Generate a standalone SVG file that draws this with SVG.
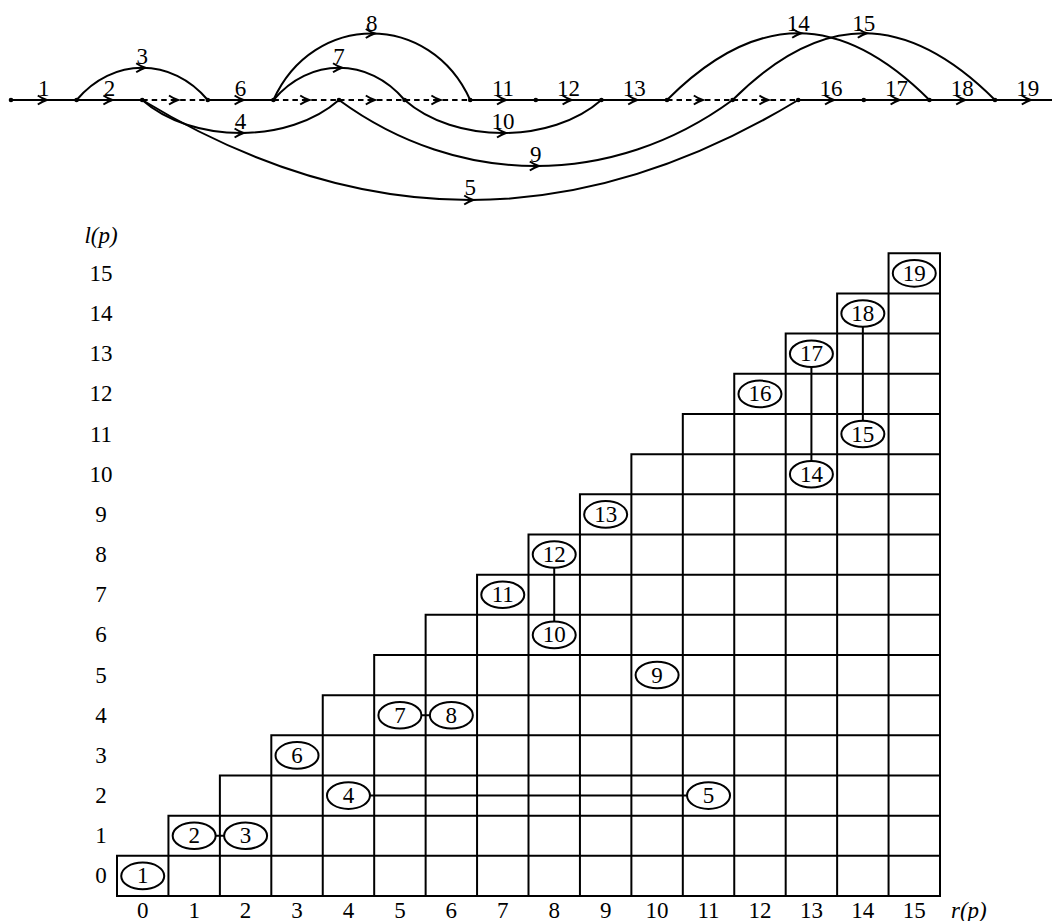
<svg xmlns="http://www.w3.org/2000/svg" width="1052" height="921" viewBox="0 0 1052 921">
<style>
text{font-family:"Liberation Serif","Times New Roman",serif;font-size:23px;fill:#000;text-anchor:middle}
.it{font-style:italic}
.e{fill:none;stroke:#000;stroke-width:2;marker-mid:url(#arr)}
.d{stroke-dasharray:5.5 4}
.dot{fill:#000}
.grid{fill:none;stroke:#000;stroke-width:2;stroke-linecap:square}
.ell{fill:#fff;stroke:#000;stroke-width:2}
.lnk{fill:none;stroke:#000;stroke-width:2}
</style>
<defs>
<marker id="arr" viewBox="-12 -6 16 12" markerWidth="16" markerHeight="12" refX="-3" refY="0" orient="auto" markerUnits="userSpaceOnUse">
<path d="M-9,-4.5 Q-4,-1.2 0,0 Q-4,1.2 -9,4.5" fill="none" stroke="#000" stroke-width="2" stroke-dasharray="none"/>
</marker>
</defs>
<rect width="1052" height="921" fill="#fff"/>

<g id="connectors">
<path class="e" d="M11,100 L43.8,100 L76.6,100"/>
<path class="e" d="M76.6,100 L109.4,100 L142.2,100"/>
<path class="e d" d="M142.2,100 L175,100 L207.8,100"/>
<path class="e" d="M207.8,100 L240.6,100 L273.4,100"/>
<path class="e d" d="M273.4,100 L306.2,100 L339,100"/>
<path class="e d" d="M339,100 L371.8,100 L404.6,100"/>
<path class="e d" d="M404.6,100 L437.4,100 L470.2,100"/>
<path class="e" d="M470.2,100 L503,100 L535.8,100"/>
<path class="e" d="M535.8,100 L568.6,100 L601.4,100"/>
<path class="e" d="M601.4,100 L634.2,100 L667,100"/>
<path class="e d" d="M667,100 L699.8,100 L732.6,100"/>
<path class="e d" d="M732.6,100 L765.4,100 L798.2,100"/>
<path class="e" d="M798.2,100 L831,100 L863.8,100"/>
<path class="e" d="M863.8,100 L896.6,100 L929.4,100"/>
<path class="e" d="M929.4,100 L962.2,100 L995,100"/>
<path class="e" d="M995,100 L1027.8,100 L1060.6,100"/>
<!-- arcs above -->
<path class="e" d="M76.6,100 C94.6,78.5 118.4,67.75 142.2,67.75 C166,67.75 189.8,78.5 207.8,100"/>
<path class="e" d="M273.4,100 C291.4,78.5 315.2,67.75 339,67.75 C362.8,67.75 386.6,78.5 404.6,100"/>
<path class="e" d="M273.4,100 C293.4,55.65 332.6,33.5 371.8,33.5 C411,33.5 450.2,55.65 470.2,100"/>
<path class="e" d="M667,100 C711.5,55.5 754.85,33.25 798.2,33.25 C841.55,33.25 884.9,55.5 929.4,100"/>
<path class="e" d="M732.6,100 C777.1,55.5 820.45,33.25 863.8,33.25 C907.15,33.25 950.5,55.5 995,100"/>
<!-- arcs below -->
<path class="e" d="M142.2,100 C167.2,122 203.9,133 240.6,133 C277.3,133 314,122 339,100"/>
<path class="e" d="M404.6,100 C429.6,122 466.3,133 503,133 C539.7,133 576.4,122 601.4,100"/>
<path class="e" d="M339,100 C399,144 467.4,166 535.8,166 C604.2,166 672.6,144 732.6,100"/>
<path class="e" d="M142.2,100 C252.2,166.67 361.2,200 470.2,200 C579.2,200 688.2,166.67 798.2,100"/>
<!-- edge labels -->
<text x="43.8" y="95.5">1</text>
<text x="109.4" y="95.5">2</text>
<text x="142.2" y="63.5">3</text>
<text x="240.6" y="128.5">4</text>
<text x="470.2" y="195">5</text>
<text x="240.6" y="95.5">6</text>
<text x="339" y="63.5">7</text>
<text x="371.8" y="30.5">8</text>
<text x="535.8" y="161.5">9</text>
<text x="503" y="128.5">10</text>
<text x="503" y="95.5">11</text>
<text x="568.6" y="95.5">12</text>
<text x="634.2" y="95.5">13</text>
<text x="798.2" y="30.5">14</text>
<text x="863.8" y="30.5">15</text>
<text x="831" y="95.5">16</text>
<text x="896.6" y="95.5">17</text>
<text x="962.2" y="95.5">18</text>
<text x="1027.8" y="95.5">19</text>
</g>

<g id="v0"><circle class="dot" cx="11" cy="100" r="2.3"/></g>
<g id="v1"><circle class="dot" cx="76.6" cy="100" r="2.3"/></g>
<g id="v2"><circle class="dot" cx="142.2" cy="100" r="2.3"/></g>
<g id="v3"><circle class="dot" cx="207.8" cy="100" r="2.3"/></g>
<g id="v4"><circle class="dot" cx="273.4" cy="100" r="2.3"/></g>
<g id="v5"><circle class="dot" cx="339" cy="100" r="2.3"/></g>
<g id="v6"><circle class="dot" cx="404.6" cy="100" r="2.3"/></g>
<g id="v7"><circle class="dot" cx="470.2" cy="100" r="2.3"/></g>
<g id="v8"><circle class="dot" cx="535.8" cy="100" r="2.3"/></g>
<g id="v9"><circle class="dot" cx="601.4" cy="100" r="2.3"/></g>
<g id="v10"><circle class="dot" cx="667" cy="100" r="2.3"/></g>
<g id="v11"><circle class="dot" cx="732.6" cy="100" r="2.3"/></g>
<g id="v12"><circle class="dot" cx="798.2" cy="100" r="2.3"/></g>
<g id="v13"><circle class="dot" cx="863.8" cy="100" r="2.3"/></g>
<g id="v14"><circle class="dot" cx="929.4" cy="100" r="2.3"/></g>
<g id="v15"><circle class="dot" cx="995" cy="100" r="2.3"/></g>

<g id="grid">
<path class="grid" d="M117,896 H940 M117,855.83 H940 M168.44,815.66 H940 M219.88,775.49 H940 M271.31,735.32 H940 M322.75,695.15 H940 M374.19,654.98 H940 M425.63,614.81 H940 M477.06,574.64 H940 M528.5,534.47 H940 M579.94,494.3 H940 M631.38,454.13 H940 M682.81,413.96 H940 M734.25,373.79 H940 M785.69,333.62 H940 M837.13,293.45 H940 M888.56,253.28 H940
M117,896 V855.83 M168.44,896 V815.66 M219.88,896 V775.49 M271.31,896 V735.32 M322.75,896 V695.15 M374.19,896 V654.98 M425.63,896 V614.81 M477.06,896 V574.64 M528.5,896 V534.47 M579.94,896 V494.3 M631.38,896 V454.13 M682.81,896 V413.96 M734.25,896 V373.79 M785.69,896 V333.62 M837.13,896 V293.45 M888.56,896 V253.28 M940,896 V253.28"/>
<text class="it" x="101" y="243">l(p)</text>
<text x="101" y="280.9">15</text>
<text x="101" y="321">14</text>
<text x="101" y="361.2">13</text>
<text x="101" y="401.4">12</text>
<text x="101" y="441.55">11</text>
<text x="101" y="481.7">10</text>
<text x="101" y="521.9">9</text>
<text x="101" y="562.1">8</text>
<text x="101" y="602.2">7</text>
<text x="101" y="642.4">6</text>
<text x="101" y="682.6">5</text>
<text x="101" y="722.7">4</text>
<text x="101" y="762.9">3</text>
<text x="101" y="803.1">2</text>
<text x="101" y="843.25">1</text>
<text x="101" y="883.4">0</text>
<text x="142.72" y="918">0</text>
<text x="194.16" y="918">1</text>
<text x="245.6" y="918">2</text>
<text x="297.03" y="918">3</text>
<text x="348.47" y="918">4</text>
<text x="399.91" y="918">5</text>
<text x="451.35" y="918">6</text>
<text x="502.78" y="918">7</text>
<text x="554.22" y="918">8</text>
<text x="605.66" y="918">9</text>
<text x="657.1" y="918">10</text>
<text x="708.53" y="918">11</text>
<text x="759.97" y="918">12</text>
<text x="811.41" y="918">13</text>
<text x="862.85" y="918">14</text>
<text x="914.28" y="918">15</text>
<text class="it" x="951" y="918" style="text-anchor:start">r(p)</text>
</g>

<g id="grid-connectors">
<line class="lnk" x1="215.66" y1="835.75" x2="224.1" y2="835.75"/>
<line class="lnk" x1="369.97" y1="795.58" x2="687.03" y2="795.58"/>
<line class="lnk" x1="421.41" y1="715.24" x2="429.85" y2="715.24"/>
<line class="lnk" x1="554.22" y1="621.6" x2="554.22" y2="567.86"/>
<line class="lnk" x1="811.41" y1="460.92" x2="811.41" y2="367.01"/>
<line class="lnk" x1="862.85" y1="420.75" x2="862.85" y2="326.84"/>
</g>

<g id="p1"><ellipse class="ell" cx="142.72" cy="875.92" rx="21.5" ry="13.3"/><text x="142.72" y="883.4">1</text></g>
<g id="p2"><ellipse class="ell" cx="194.16" cy="835.75" rx="21.5" ry="13.3"/><text x="194.16" y="843.25">2</text></g>
<g id="p3"><ellipse class="ell" cx="245.6" cy="835.75" rx="21.5" ry="13.3"/><text x="245.6" y="843.25">3</text></g>
<g id="p4"><ellipse class="ell" cx="348.47" cy="795.58" rx="21.5" ry="13.3"/><text x="348.47" y="803.1">4</text></g>
<g id="p5"><ellipse class="ell" cx="708.53" cy="795.58" rx="21.5" ry="13.3"/><text x="708.53" y="803.1">5</text></g>
<g id="p6"><ellipse class="ell" cx="297.03" cy="755.41" rx="21.5" ry="13.3"/><text x="297.03" y="762.9">6</text></g>
<g id="p7"><ellipse class="ell" cx="399.91" cy="715.24" rx="21.5" ry="13.3"/><text x="399.91" y="722.7">7</text></g>
<g id="p8"><ellipse class="ell" cx="451.35" cy="715.24" rx="21.5" ry="13.3"/><text x="451.35" y="722.7">8</text></g>
<g id="p9"><ellipse class="ell" cx="657.1" cy="675.07" rx="21.5" ry="13.3"/><text x="657.1" y="682.6">9</text></g>
<g id="p10"><ellipse class="ell" cx="554.22" cy="634.9" rx="21.5" ry="13.3"/><text x="554.22" y="642.4">10</text></g>
<g id="p11"><ellipse class="ell" cx="502.78" cy="594.73" rx="21.5" ry="13.3"/><text x="502.78" y="602.2">11</text></g>
<g id="p12"><ellipse class="ell" cx="554.22" cy="554.56" rx="21.5" ry="13.3"/><text x="554.22" y="562.1">12</text></g>
<g id="p13"><ellipse class="ell" cx="605.66" cy="514.39" rx="21.5" ry="13.3"/><text x="605.66" y="521.9">13</text></g>
<g id="p14"><ellipse class="ell" cx="811.41" cy="474.22" rx="21.5" ry="13.3"/><text x="811.41" y="481.7">14</text></g>
<g id="p15"><ellipse class="ell" cx="862.85" cy="434.05" rx="21.5" ry="13.3"/><text x="862.85" y="441.55">15</text></g>
<g id="p16"><ellipse class="ell" cx="759.97" cy="393.88" rx="21.5" ry="13.3"/><text x="759.97" y="401.4">16</text></g>
<g id="p17"><ellipse class="ell" cx="811.41" cy="353.71" rx="21.5" ry="13.3"/><text x="811.41" y="361.2">17</text></g>
<g id="p18"><ellipse class="ell" cx="862.85" cy="313.54" rx="21.5" ry="13.3"/><text x="862.85" y="321">18</text></g>
<g id="p19"><ellipse class="ell" cx="914.28" cy="273.37" rx="21.5" ry="13.3"/><text x="914.28" y="280.9">19</text></g>
</svg>
